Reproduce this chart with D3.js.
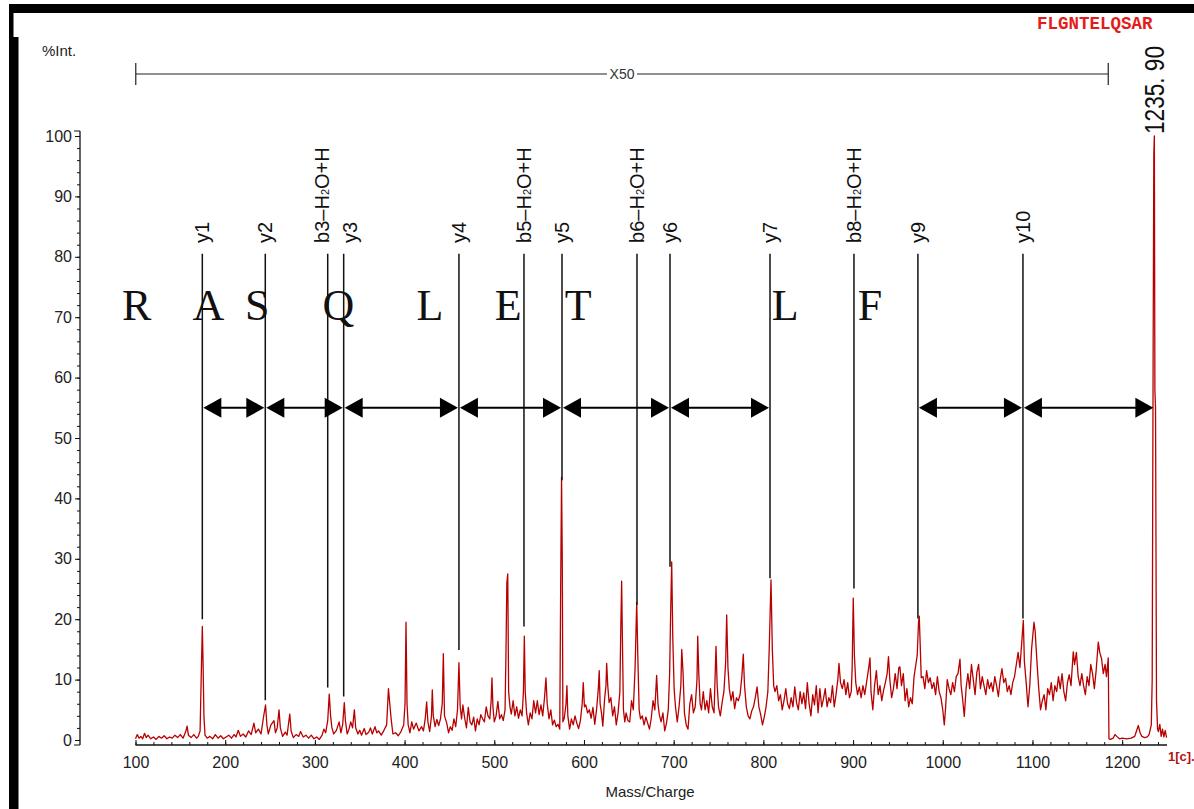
<!DOCTYPE html>
<html>
<head>
<meta charset="utf-8">
<script src="https://cdn.jsdelivr.net/npm/d3@7"></script>
<style>
  body { margin: 0; background: #fff; }
  svg { display: block; }
</style>
</head>
<body>
<div id="container"></div>
<script>
// spectrum trace: [m/z, %Int]
const spectrum = [
  [100,0.2],[102,0.9],[104,0.3],[106,0.6],[108,0.2],[110,1.1],[112,0.4],[114,0.8],[117,0.2],[120,0.5],
  [123,0.1],[126,0.6],[129,0.3],[132,0.7],[135,0.2],[138,0.5],[141,0.3],[144,0.8],[147,0.4],[150,0.9],
  [153,0.3],[156,1.4],[157.5,2.3],[159,0.8],[162,0.4],[165,0.9],[168,0.3],[170,0.6],[172,1.5],[173.5,12],
  [174.5,18.8],[175.3,13],[176.3,4],[177.5,0.8],[180,0.3],[183,0.6],[186,0.2],[189,0.9],[192,0.3],[195,0.7],
  [198,0.2],[201,0.5],[204,0.8],[207,0.3],[210,0.9],[212,0.5],[214.6,1.6],[217,0.6],[220,1.0],[223,0.5],
  [226,1.5],[229,0.9],[232,2.8],[234,1.2],[237,1.8],[240,1.0],[242.5,3.6],[245,5.8],[246.5,2.5],[248,1.0],
  [251,2.5],[254.4,3.2],[256,1.2],[258,2.0],[260,5.0],[261.5,2.0],[264,0.6],[267,1.3],[269,0.8],[272,4.3],
  [273.5,1.5],[276,0.4],[279,0.9],[282,0.6],[284,1.4],[287,0.5],[290,0.8],[293,0.3],[296,0.8],[299,0.2],
  [302,0.5],[305,0.1],[308,0.8],[310,1.8],[312,1.2],[314.3,3.2],[316,7.6],[317.5,4],[319,2],[321,1.0],
  [324,1.6],[327,3.0],[329,1.2],[331,2.6],[332.8,6.2],[334,3.2],[336,1.0],[338,1.8],[340,3.0],[342,2.0],
  [344,5.0],[345.5,2.0],[348,1.0],[350,1.6],[352,0.8],[355,1.9],[357,0.9],[360,1.3],[362,2.0],[364,1.0],
  [367,2.2],[369,1.2],[371,1.5],[374,0.8],[377,1.6],[380,2.5],[382,8.5],[383.5,6],[385,3.5],[387,1.0],
  [390,1.2],[393,0.7],[396,1.4],[399,2.5],[400.5,6],[401.6,19.5],[402.7,6],[404,2.5],[406,1.2],[408,3],
  [410,1.8],[413,2.8],[416,1.5],[419,2.2],[421,1.5],[423,3.5],[424.6,6.3],[426,3],[428,1.4],[430,4],
  [430.9,8.3],[432,4],[434,2.2],[436,3.4],[438,2.4],[440,3.5],[442,6],[443.2,14.3],[444.5,4],[447,2.8],
  [449,1.2],[451,2.2],[453,1.6],[455,3.5],[457,2.2],[459,5],[460.6,12.8],[462,5.5],[463.5,3.5],[465,5.8],
  [467,3.6],[469,2.0],[471,5.4],[473,3.0],[475,2.5],[477,3.8],[479,1.5],[481,3.5],[483,2.5],[485,4.2],
  [487,3.5],[489,3.0],[491,5.5],[493,4.0],[495,3.5],[496.5,6.5],[497.4,10.3],[498.5,5.5],[500,3.0],[502,4.0],
  [504,6.4],[506,3.5],[508,4.2],[510,3.2],[512,5],[513,14],[514,26],[515,27.5],[516,8],[517.5,5.5],
  [519,4.3],[521,6.5],[523,4.0],[525,5.5],[527,3.6],[529,5.0],[531,4.0],[532.5,8],[533.5,17.2],[534.5,8],
  [536,4.5],[538,2.5],[540,4.5],[542,3.5],[544,6.5],[546,4.5],[548,6.5],[550,4.2],[552,5.8],[554,4.0],
  [556,7],[557.6,10.3],[559,6],[561,3.5],[563,5],[565,2.5],[567,3.3],[569,2.2],[571,2.6],[573,1.8],
  [574,25],[575,43.5],[575.8,30],[576.5,3],[578,3.6],[580,6],[581,9],[582,4],[584,1.8],[586,3.5],
  [588,2.5],[590,4.0],[592,2.8],[594,1.9],[596,3.2],[598,6.0],[599.2,9.5],[600.5,5.5],[602,5.8],[604,4.5],
  [606,5.0],[608,3.6],[610,5.4],[612,2.6],[614,5.0],[616,8.5],[617,11.5],[618,6],[619.5,4.5],[621,2.3],
  [623,6.8],[624.5,9],[625.3,12.7],[626.5,9],[628,6.2],[630,7.0],[632,4.0],[634,5.5],[636,2.5],[638,4.5],
  [640,8],[641,18],[642,26.3],[643,15],[644,5],[645.5,3],[647,4.5],[649,3.2],[651,3.0],[653,6.5],
  [655,5.0],[657,12],[658.8,22.8],[660,14],[661.5,5],[663,3.5],[665,4.0],[667,2.5],[669,3.8],[671,2.8],
  [673,1.8],[675,3.6],[677,6.5],[679,5.0],[681,10.7],[682.5,6],[684,4.2],[686,3.0],[688,4.5],[690,1.5],
  [692,2.8],[694,5],[695.5,11],[696.5,20],[697.8,29.5],[699,17],[700.5,8.5],[702,5.5],[704,3.0],[706,5.5],
  [708,9],[709,15],[710.5,11],[712,4.5],[714,2.5],[716,1.8],[718,6],[720,7.5],[722,4.5],[724,5.5],
  [726,10],[726.8,17.2],[728,11],[729.5,6],[731,5.0],[733,8.0],[735,5.0],[737,6.5],[739,4.5],[741,8.5],
  [743,5.5],[745,4.5],[747.2,15.5],[748.5,9],[750,5.5],[752,4.0],[754,6.2],[756,8],[758,13],[759.1,20.7],
  [760.5,12],[762,8.5],[764,6.5],[766,8.0],[768,5.2],[770,7.0],[772,6.5],[774,7.5],[776,10.5],[777.6,14.2],
  [779,9],[781,5.5],[783,4.0],[785,3.5],[787,4.8],[789,5.5],[791,7.0],[793,8.8],[795,5.5],[797,4.2],
  [799,2.5],[801,3.8],[803,5.5],[805,8],[806.5,15],[808.5,26.5],[810,15],[811.5,9],[813,8.0],[815,9.0],
  [817,6.5],[819,7.5],[821,5.0],[823,6.5],[825,8.5],[827,6.0],[829,5.2],[831,7.0],[833,5.5],[835,8.8],
  [837,6.2],[839,5.0],[841,8.0],[843,6.0],[845,7.8],[847,5.2],[849,9.5],[851,6.0],[853,4.0],[855,7.5],
  [857,5.8],[859,9.0],[861,4.5],[863,8.5],[865,5.5],[867,6.8],[869,8.5],[871,5.5],[873,7.0],[875,6.2],
  [877,9.0],[879,5.5],[881,7.5],[883,10],[884.3,12.7],[886,9.5],[888,8.5],[890,10],[892,7.5],[894,9.5],
  [896,7.0],[898,8.0],[899,12],[900.2,23.5],[901.5,14],[903,9.5],[905,7.5],[907,8.8],[909,7.0],[911,9.0],
  [913,7.5],[915,9.5],[917,11.5],[918.9,13.6],[920,8],[922,5.0],[924,9.0],[926,11.5],[928,7.5],[930,9.0],
  [932,6.5],[934,8.2],[936,9.5],[938,11],[939.5,13.8],[941,10],[943,7.0],[945,8.5],[947,11.0],[949,8.5],
  [951,12],[952.2,12.1],[954,9.0],[956,11],[958,6.5],[960,8.5],[962,5.5],[964,7.0],[966,6.0],[968,10.5],
  [970,12.5],[971.5,14],[973,19.5],[973.8,20.5],[974.8,16],[976,10.3],[978,10.5],[980,8.5],[982,11.5],[984,9.5],
  [986,10.3],[988,8.5],[990,9.5],[992,7.5],[994,10.5],[996,8.0],[998,7.0],[1000,5.0],[1001.7,2.5],[1003,5],
  [1005,10],[1007,8.5],[1009,7.5],[1011,9.5],[1013,8.0],[1015,10.5],[1017,11],[1019.2,13.4],[1020.5,9],[1022,7.0],
  [1024,3.9],[1026,8.5],[1028,11.0],[1030,8.5],[1032,12.5],[1034,10],[1036,7.5],[1038,11.2],[1040,12.5],[1042,8.5],
  [1044,10.5],[1046,9.0],[1048,7.5],[1050,10],[1052,8.5],[1054,9.5],[1056,8.0],[1058,10.5],[1060,9.0],[1062,7.2],
  [1064,10],[1066,11.8],[1068,9.5],[1070,10.2],[1072,8.0],[1074,9.0],[1076,7.5],[1078,9.5],[1080,10.5],[1082,12.5],
  [1084,14.5],[1086,12],[1088,16],[1089.8,19.8],[1091,13],[1093,9.5],[1095,5.5],[1097,9],[1099,15],[1101.7,19.5],
  [1103,18],[1105,13],[1107,8.5],[1109,5.0],[1111,6.5],[1113,7.5],[1115,5.0],[1117,8.5],[1119,7.5],[1121,9.5],
  [1123,6.5],[1125,9.0],[1127,8.0],[1129,10.5],[1131,8.5],[1133,11.0],[1135,8.0],[1137,6.5],[1139,9.5],[1141,10.8],
  [1143,9.0],[1145.5,14.6],[1147,12.5],[1149,14.5],[1151,10.5],[1153,9.0],[1155,11.0],[1157,9.0],[1159,7.5],[1161,10.5],
  [1163,9.0],[1165,12.5],[1167,11.0],[1169,8.5],[1171,11.5],[1173.4,16.2],[1175,14.5],[1177,13.5],[1179,11.0],[1181,12.5],
  [1182.5,10.5],[1184.5,13.6],[1185.3,0.2],[1187,0.1],[1190,0.3],[1192,0.9],[1194,0.6],[1197,0.2],[1200,0.3],[1205,0.2],
  [1210,0.3],[1214,0.6],[1216,1.5],[1218,2.4],[1220,1.2],[1222,0.6],[1225,0.4],[1228,0.5],[1230,0.9],[1232.5,2.5],
  [1233.5,10],[1234.5,62],[1235.3,97],[1235.9,100],[1236.5,58],[1237.2,55],[1238.3,6.6],[1239.5,1.8],[1240.4,1.4],[1242,2.6],
  [1243.5,0.6],[1245,1.8],[1246.5,0.5],[1248,1.6],[1249.5,0.4]
];

// fragment ions
const ionLabels = ["y1", "y2", "b3-H2O+H", "y3", "y4", "b5-H2O+H", "y5", "b6-H2O+H", "y6", "y7", "b8-H2O+H", "y9", "y10"];
const ionMz = [174.5, 244.7, 314.3, 332.1, 460.6, 533.1, 575.5, 659.1, 695.9, 807.4, 901.0, 972.3, 1089.4];
const ionLineEnd = [20.0, 6.6, 8.7, 7.2, 14.9, 18.8, 43.0, 22.4, 28.7, 26.8, 25.1, 20.1, 20.1];

const precursorMz = 1235.9;
const precursorLabel = "1235. 90";

// residues read between the y ions
const seqLetters = ["R", "A", "S", "Q", "L", "E", "T", "L", "F"];
const seqMz = [101.3, 181.2, 235.8, 326.1, 428.3, 515.6, 593.5, 824.4, 918.8];

const arrowPairs = [["y1","y2"], ["y2","y3"], ["y3","y4"], ["y4","y5"], ["y5","y6"], ["y6","y7"], ["y9","y10"], ["y10","MH"]];

const xTicks = [100, 200, 300, 400, 500, 600, 700, 800, 900, 1000, 1100, 1200];
const yTicks = [0, 10, 20, 30, 40, 50, 60, 70, 80, 90, 100];

const magRange = [100.3, 1184.5];
const magLabel = "X50";
const peptide = "FLGNTELQSAR";

const W = 1194, H = 809;
const svg = d3.select("#container").append("svg")
  .attr("width", W).attr("height", H)
  .style("font-family", "'Liberation Sans', Arial, sans-serif");

var x = d3.scaleLinear().domain([100, 1250]).range([135.5, 1167]);
var y = d3.scaleLinear().domain([0, 100]).range([740, 136]);
const axisY = 745, axisX = 80;

// frame
svg.append("rect").attr("x", 9).attr("y", 4).attr("width", W - 9).attr("height", 9).attr("fill", "#000");
svg.append("rect").attr("x", 9).attr("y", 4).attr("width", 4.5).attr("height", 34).attr("fill", "#000");
svg.append("rect").attr("x", 9).attr("y", 37).attr("width", 9.5).attr("height", H - 37).attr("fill", "#000");

// x axis
var gx = svg.append("g").attr("transform", "translate(0," + axisY + ")");
gx.call(d3.axisBottom(x).tickValues(d3.range(100, 1250, 20)).tickSize(-3).tickFormat(""));
gx.append("g").call(d3.axisBottom(x).tickValues(xTicks).tickSize(-5).tickPadding(12).tickFormat(d3.format("d")));
gx.selectAll(".domain").remove();
gx.append("line").attr("x1", x(100)).attr("x2", x(1250)).attr("stroke", "#111").attr("stroke-width", 1.3);
gx.selectAll("line").attr("stroke", "#111");
gx.selectAll("text").attr("font-size", 16).attr("fill", "#222").attr("font-family", "'Liberation Sans', Arial, sans-serif");

// y axis
var gy = svg.append("g").attr("transform", "translate(" + axisX + ",0)");
gy.call(d3.axisLeft(y).tickValues(d3.range(0, 101, 2)).tickSize(3).tickFormat(""));
gy.append("g").call(d3.axisLeft(y).tickValues(yTicks).tickSize(5).tickPadding(3));
gy.selectAll(".domain").remove();
gy.append("line").attr("y1", axisY).attr("y2", 131).attr("stroke", "#111").attr("stroke-width", 1.3);
gy.append("line").attr("x1", -6).attr("x2", 0).attr("y1", 131).attr("y2", 131).attr("stroke", "#111");
gy.append("line").attr("x1", -6).attr("x2", 0).attr("y1", axisY).attr("y2", axisY).attr("stroke", "#111");
gy.selectAll("line").attr("stroke", "#111");
gy.selectAll("text").attr("font-size", 16).attr("fill", "#222").attr("font-family", "'Liberation Sans', Arial, sans-serif");

svg.append("text").attr("x", 42).attr("y", 56).attr("font-size", 15).attr("fill", "#222").text("%Int.");
svg.append("text").attr("x", 650).attr("y", 797).attr("text-anchor", "middle")
  .attr("font-size", 15).attr("fill", "#222").text("Mass/Charge");
svg.append("text").attr("x", 1168).attr("y", 761).attr("font-size", 13).attr("font-weight", "bold")
  .attr("fill", "#b01515").text("1[c].");

// magnification bracket
var magY = 74;
svg.append("line").attr("x1", x(magRange[0])).attr("x2", x(magRange[1])).attr("y1", magY).attr("y2", magY)
  .attr("stroke", "#222").attr("stroke-width", 1.2);
magRange.forEach(function(m) {
  svg.append("line").attr("x1", x(m)).attr("x2", x(m)).attr("y1", magY - 11).attr("y2", magY + 11)
    .attr("stroke", "#222").attr("stroke-width", 1.2);
});
var magMid = (x(magRange[0]) + x(magRange[1])) / 2;
svg.append("rect").attr("x", magMid - 15).attr("y", magY - 8).attr("width", 30).attr("height", 16).attr("fill", "#fff");
svg.append("text").attr("x", magMid).attr("y", magY + 5).attr("text-anchor", "middle")
  .attr("font-size", 14).attr("fill", "#333").text(magLabel);

svg.append("text").attr("x", 1037).attr("y", 29)
  .attr("font-family", "'Liberation Mono', 'Courier New', monospace").attr("font-weight", "bold")
  .attr("font-size", 17.5).attr("fill", "#e31b1b").text(peptide);

// spectrum
var line = d3.line().x(d => x(d[0])).y(d => y(d[1]));
svg.append("path").datum(spectrum)
  .attr("d", line)
  .attr("fill", "none")
  .attr("stroke", "#b80000")
  .attr("stroke-width", 1.3)
  .attr("stroke-linejoin", "round");

svg.append("text")
  .attr("transform", "translate(" + (x(precursorMz) + 10) + "," + (y(100) - 2) + ") rotate(-90)")
  .attr("font-size", 27).attr("textLength", 88).attr("lengthAdjust", "spacingAndGlyphs")
  .attr("fill", "#111").text(precursorLabel);

// ion lines and labels
var ionTop = y(80.5), labelStart = y(82.3);
var ionX = ionMz.map(m => x(m));
var labelX = ionX.slice();
for (var i = 1; i < ionX.length; i++) {
  if (ionX[i] - ionX[i - 1] < 20) {
    labelX[i - 1] -= 6;
    labelX[i] += 6;
  }
}

var ions = svg.append("g");
ionLabels.forEach(function(lbl, i) {
  ions.append("line")
    .attr("x1", ionX[i]).attr("x2", ionX[i])
    .attr("y1", ionTop).attr("y2", y(ionLineEnd[i]))
    .attr("stroke", "#111").attr("stroke-width", 1.5);

  var t = ions.append("text")
    .attr("transform", "translate(" + (labelX[i] + 7) + "," + labelStart + ") rotate(-90)")
    .attr("font-size", 20).attr("fill", "#111");
  var parts = lbl.split("H2O");
  if (parts.length > 1) {
    t.append("tspan").text(parts[0].replace("-", "\u2013") + "H");
    t.append("tspan").attr("font-size", 11).text("2");
    t.append("tspan").text("O" + parts[1]);
  } else {
    t.text(lbl);
  }
});

// sequence letters
svg.append("g").selectAll("text").data(seqLetters).join("text")
  .attr("x", (d, i) => x(seqMz[i]))
  .attr("y", y(69.5))
  .attr("text-anchor", "middle")
  .attr("font-family", "'Liberation Serif', 'Times New Roman', serif")
  .attr("font-size", 44)
  .attr("fill", "#111")
  .text(d => d);

// double headed arrows between neighbouring ions
var posOf = function(name) {
  if (name === "MH") return x(precursorMz);
  return ionX[ionLabels.indexOf(name)];
};
var arrowY = y(55);
var headL = 18, headH = 10;
var arrows = svg.append("g");
arrowPairs.forEach(function(p) {
  var a = posOf(p[0]) + 1, b = posOf(p[1]) - 1;
  arrows.append("line").attr("x1", a + 8).attr("x2", b - 8).attr("y1", arrowY).attr("y2", arrowY)
    .attr("stroke", "#000").attr("stroke-width", 2);
  arrows.append("path")
    .attr("d", "M" + a + "," + arrowY + "L" + (a + headL) + "," + (arrowY - headH) + "L" + (a + headL) + "," + (arrowY + headH) + "Z")
    .attr("fill", "#000");
  arrows.append("path")
    .attr("d", "M" + b + "," + arrowY + "L" + (b - headL) + "," + (arrowY - headH) + "L" + (b - headL) + "," + (arrowY + headH) + "Z")
    .attr("fill", "#000");
});
</script>
</body>
</html>
